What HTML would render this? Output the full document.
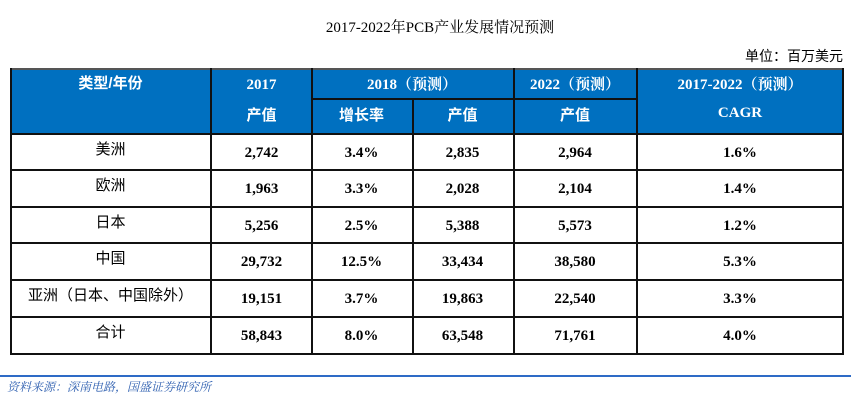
<!DOCTYPE html>
<html><head><meta charset="utf-8"><style>
body{margin:0;width:851px;height:400px;background:#fff;position:relative;overflow:hidden;font-family:"Liberation Serif","Noto Serif CJK SC",serif;}
.a{position:absolute;}
.t{position:absolute;text-align:center;font-size:15px;line-height:18px;}
.b{font-weight:bold;}
.w{color:#fff;}
.h{background:#0070C0;}
.v{position:absolute;width:2px;background:#111;}
.hl{position:absolute;height:2px;background:#111;}
.cj{font-family:"Liberation Sans","Noto Sans CJK SC",sans-serif;}
</style></head><body>
<div class="t" style="left:0;width:880px;top:19px;font-size:15px;">2017-2022年PCB产业发展情况预测</div>
<div class="a cj" style="right:8px;top:46px;font-size:14px;">单位：百万美元</div>
<div class="a h" style="left:11px;top:69px;width:832px;height:64px;"></div>
<div class="hl" style="left:11px;top:68px;width:833px;background:#555"></div>
<div class="hl" style="left:311px;top:98px;width:326px;"></div>
<div class="hl" style="left:11px;top:133px;width:833px;"></div>
<div class="hl" style="left:11px;top:169px;width:833px;"></div>
<div class="hl" style="left:11px;top:206px;width:833px;"></div>
<div class="hl" style="left:11px;top:242px;width:833px;"></div>
<div class="hl" style="left:11px;top:279px;width:833px;"></div>
<div class="hl" style="left:11px;top:316px;width:833px;"></div>
<div class="hl" style="left:11px;top:353px;width:833px;"></div>
<div class="v" style="left:10px;top:68px;height:287px;"></div>
<div class="v" style="left:210px;top:68px;height:287px;"></div>
<div class="v" style="left:311px;top:68px;height:287px;"></div>
<div class="v" style="left:412px;top:99px;height:256px;"></div>
<div class="v" style="left:513px;top:68px;height:287px;"></div>
<div class="v" style="left:636px;top:68px;height:287px;"></div>
<div class="v" style="left:842px;top:68px;height:287px;"></div>
<div class="t w b cj" style="left:11px;width:199px;top:75px;">类型/年份</div>
<div class="t w b" style="left:211px;width:101px;top:76px;">2017</div>
<div class="t w b" style="left:311px;width:202px;top:76px;">2018（预测）</div>
<div class="t w b" style="left:513px;width:124px;top:76px;">2022（预测）</div>
<div class="t w b" style="left:637px;width:206px;top:76px;">2017-2022（预测）</div>
<div class="t w b cj" style="left:211px;width:101px;top:107px;">产值</div>
<div class="t w b cj" style="left:311px;width:101px;top:107px;">增长率</div>
<div class="t w b cj" style="left:412px;width:101px;top:107px;">产值</div>
<div class="t w b cj" style="left:513px;width:124px;top:107px;">产值</div>
<div class="t w b" style="left:637px;width:206px;top:104px;">CAGR</div>
<div id="rows"></div>
<script>
var d=[["美洲","2,742","3.4%","2,835","2,964","1.6%"],["欧洲","1,963","3.3%","2,028","2,104","1.4%"],["日本","5,256","2.5%","5,388","5,573","1.2%"],["中国","29,732","12.5%","33,434","38,580","5.3%"],["亚洲（日本、中国除外）","19,151","3.7%","19,863","22,540","3.3%"],["合计","58,843","8.0%","63,548","71,761","4.0%"]];
var xs=[[11,199],[211,101],[311,101],[412,101],[513,124],[637,206]],tops=[134,170,207,243,280,317],h="";
d.forEach(function(r,i){r.forEach(function(c,j){var y=tops[i]+(j==0?7:10);h+='<div class="t '+(j==0?'cj':'b')+'" style="left:'+xs[j][0]+'px;width:'+xs[j][1]+'px;top:'+y+'px;">'+c+'</div>';});});
document.getElementById("rows").innerHTML=h;
</script>
<div class="a" style="left:0;top:375px;width:851px;height:2px;background:#2E6BC6;"></div>
<div class="a" style="left:7px;top:378px;font-size:12px;color:#2E5FB0;font-style:italic;font-family:'Liberation Serif','Noto Serif CJK SC',serif;">资料来源：深南电路，国盛证券研究所</div>
</body></html>
